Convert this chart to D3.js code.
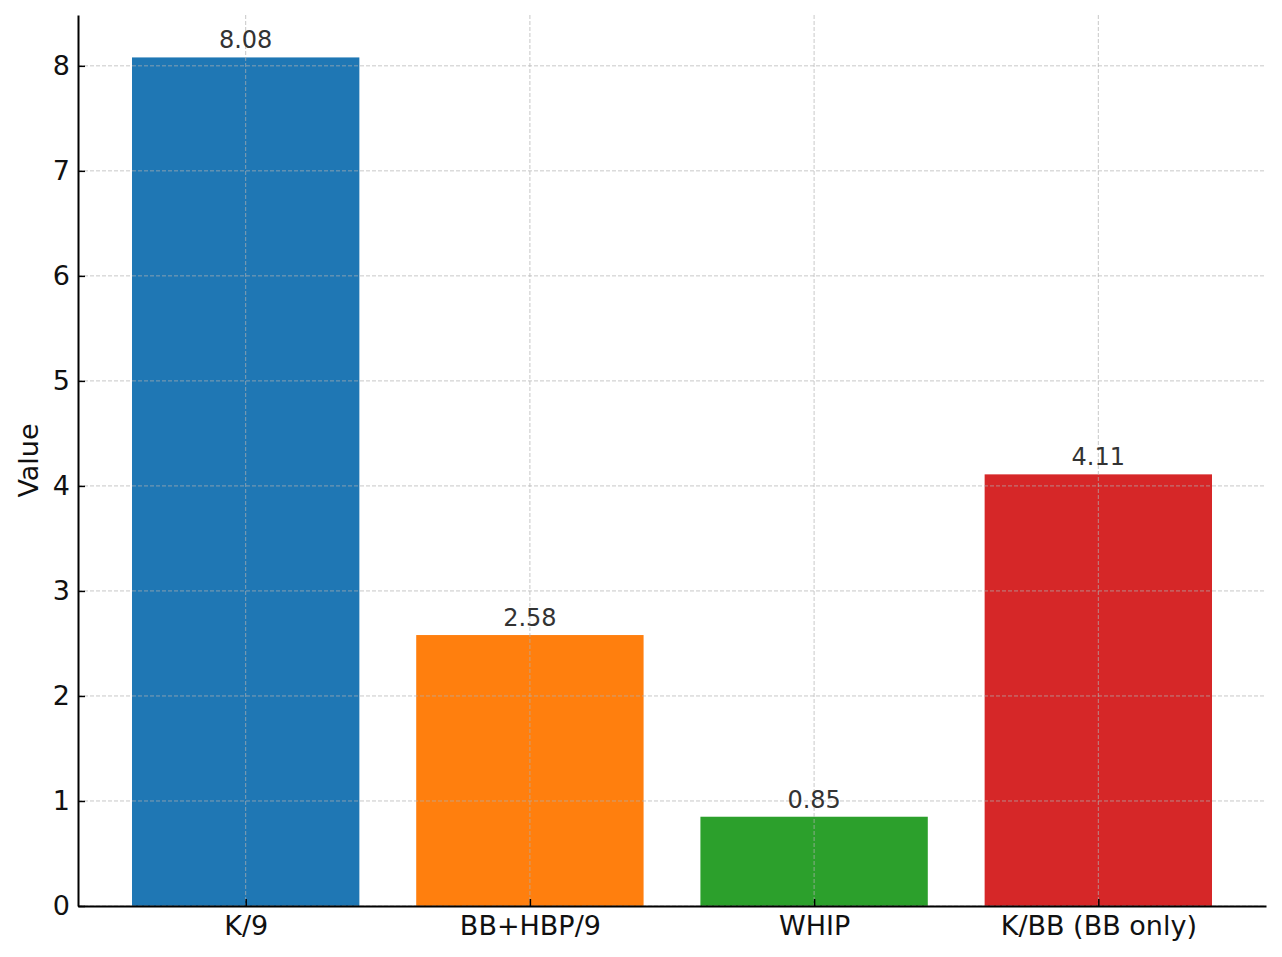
<!DOCTYPE html>
<html>
<head>
<meta charset="utf-8">
<script src="https://cdn.jsdelivr.net/npm/d3@7"></script>
<style>
body { margin: 0; background: #fff; }
svg text { font-family: "DejaVu Sans", sans-serif; }
</style>
</head>
<body>
<svg id="chart"></svg>
<script>
// data
var categories = ["K/9", "BB+HBP/9", "WHIP", "K/BB (BB only)"];
var values = [8.08, 2.58, 0.85, 4.11];
var colors = ["#1f77b4", "#ff7f0e", "#2ca02c", "#d62728"];
var yTicks = [0, 1, 2, 3, 4, 5, 6, 7, 8];

var W = 1282, H = 957;
var margin = {top: 15, right: 16, bottom: 51, left: 78},
    width = W - margin.left - margin.right,
    height = H - margin.top - margin.bottom;

var svg = d3.select("#chart")
    .attr("width", W)
    .attr("height", H)
  .append("g")
    .attr("transform", "translate(" + margin.left + "," + margin.top + ")");

// matplotlib-like x: bars at integer positions, width 0.8, 5% margins
var n = categories.length;
var lo = -0.4, hi = n - 1 + 0.4, pad = (hi - lo) * 0.05;
var x = d3.scaleLinear().domain([lo - pad, hi + pad]).range([0, width]);
var y = d3.scaleLinear().domain([0, d3.max(values) * 1.05]).range([height, 0]);

// bars
svg.selectAll("rect.bar")
    .data(values)
  .enter().append("rect")
    .attr("class", "bar")
    .attr("x", function(d, i) { return x(i - 0.4); })
    .attr("width", function(d, i) { return x(i + 0.4) - x(i - 0.4); })
    .attr("y", function(d) { return y(d); })
    .attr("height", function(d) { return height - y(d); })
    .attr("fill", function(d, i) { return colors[i]; });

// grid on top of bars
var grid = svg.append("g").attr("class", "grid");
grid.selectAll("line.h")
    .data(yTicks)
  .enter().append("line")
    .attr("x1", 0).attr("x2", width)
    .attr("y1", function(d) { return y(d); })
    .attr("y2", function(d) { return y(d); });
grid.selectAll("line.v")
    .data(categories)
  .enter().append("line")
    .attr("x1", function(d, i) { return x(i); })
    .attr("x2", function(d, i) { return x(i); })
    .attr("y1", 0).attr("y2", height);
grid.selectAll("line")
    .attr("stroke", "#b0b0b0")
    .attr("stroke-opacity", 0.7)
    .attr("stroke-width", 1)
    .attr("stroke-dasharray", "4,2");

// value labels
svg.selectAll("text.val")
    .data(values)
  .enter().append("text")
    .attr("class", "val")
    .attr("x", function(d, i) { return x(i); })
    .attr("y", function(d) { return y(d) - 9; })
    .attr("text-anchor", "middle")
    .style("font-size", "24px")
    .attr("fill", "#333")
    .text(function(d) { return d.toFixed(2); });

// axes, ticks pointing inward
var yAxis = svg.append("g")
    .call(d3.axisLeft(y).tickValues(yTicks).tickSizeInner(-7).tickSizeOuter(0).tickPadding(8));
var xAxis = svg.append("g")
    .attr("transform", "translate(0," + height + ")")
    .call(d3.axisBottom(x).tickValues(d3.range(n)).tickFormat(function(i) { return categories[i]; })
        .tickSizeInner(-7).tickSizeOuter(0).tickPadding(10));

[yAxis, xAxis].forEach(function(a) {
  a.attr("font-size", null).attr("font-family", null);
  a.select(".domain").attr("stroke", "#000").attr("stroke-width", 2);
  a.selectAll(".tick line").attr("stroke", "#000").attr("stroke-width", 1.5);
  a.selectAll(".tick text")
      .style("font-size", "27px")
      .attr("fill", "#111");
});

// y axis label
svg.append("text")
    .attr("transform", "rotate(-90)")
    .attr("x", -height / 2)
    .attr("y", -margin.left + 38)
    .attr("text-anchor", "middle")
    .style("font-size", "27px")
    .attr("fill", "#111")
    .text("Value");
</script>
</body>
</html>
